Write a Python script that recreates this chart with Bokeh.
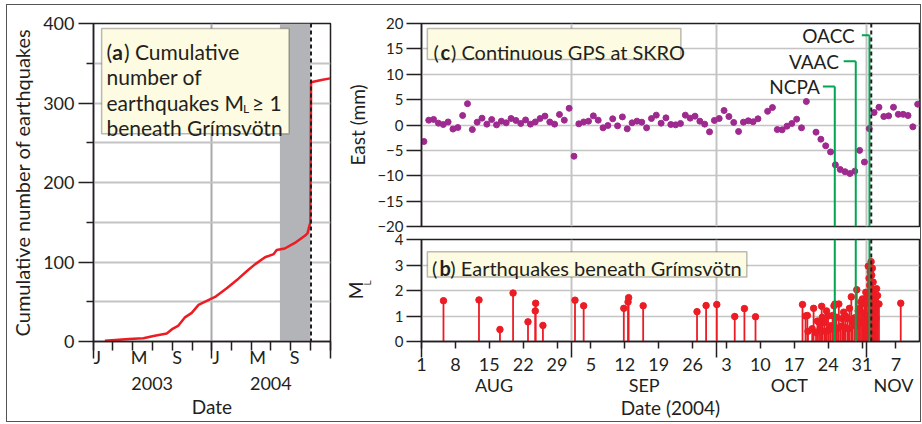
import pandas as pd
from bokeh.plotting import figure
from bokeh.models import FixedTicker, LinearAxis, Range1d, BoxAnnotation, Span, Label
from bokeh.layouts import row, column
from bokeh.embed import file_html
from bokeh.resources import INLINE

# ---------------- data ----------------
# (a) cumulative number of earthquakes ML >= 1
cum_dates = ["2003-02-05", "2003-04-20", "2003-06-04", "2003-07-05", "2003-08-15", "2003-09-02",
             "2003-09-20", "2003-10-09", "2003-10-31", "2003-11-21", "2003-12-21", "2004-01-11",
             "2004-02-16", "2004-03-23", "2004-04-22", "2004-05-13", "2004-06-13", "2004-07-10",
             "2004-07-19", "2004-08-13", "2004-09-13", "2004-10-14", "2004-10-22", "2004-10-29",
             "2004-10-31", "2004-11-02", "2004-12-04", "2004-12-31"]
cum_counts = [1, 3, 4, 7, 10, 16, 20, 30, 36, 46, 52, 56, 67, 79, 90, 97, 106, 110, 115, 117,
              124, 133, 136, 147, 150, 326, 329, 331]

# (c) daily GPS east component at SKRO (mm), 2004
gps_dates = ["08-01", "08-02", "08-03", "08-04", "08-05", "08-06", "08-07", "08-08", "08-09", "08-10",
             "08-11", "08-12", "08-13", "08-14", "08-15", "08-16", "08-17", "08-18", "08-19", "08-20",
             "08-21", "08-22", "08-23", "08-24", "08-25", "08-26", "08-27", "08-28", "08-29", "08-30",
             "08-31", "09-01", "09-02", "09-03", "09-04", "09-05", "09-06", "09-07", "09-08", "09-09",
             "09-10", "09-11", "09-12", "09-13", "09-14", "09-15", "09-16", "09-17", "09-18", "09-19",
             "09-20", "09-21", "09-22", "09-23", "09-24", "09-25", "09-26", "09-27", "09-28", "09-29",
             "09-30", "10-01", "10-02", "10-03", "10-04", "10-05", "10-06", "10-07", "10-08", "10-09",
             "10-11", "10-12", "10-13", "10-14", "10-15", "10-16", "10-17", "10-18", "10-19",
             "10-21", "10-22", "10-23", "10-24", "10-25", "10-26", "10-27", "10-28", "10-29", "10-30",
             "10-31", "11-01", "11-02", "11-03", "11-04", "11-05", "11-06", "11-07", "11-08", "11-09",
             "11-10", "11-11"]
gps_east = [-3.25, 0.95, 1.1, 0.36, 0.1, 0.6, -0.8, -0.5, 1.87, 4.2,
            -0.9, 0.56, 1.35, 0.17, 1.08, 0.03, 0.75, 0.43, 1.28, 0.9,
            0.3, 1.0, 0.17, 0.6, 1.28, 1.75, 0.6, 0.17, 2.07, 0.95,
            3.3, -6.15, 0.23, 0.6, 0.75, 1.8, 0.95, -0.56, -0.1, 1.22,
            -0.17, 1.6, -0.76, 0.43, 0.76, 0.56, -0.56, 1.28, 1.94, 0.36,
            1.41, 0.1, 0.03, 0.3, 1.94, 1.35, 1.74, 0.76, 0.17, -1.35,
            0.9, 1.28, 2.86, 1.67, 0.5, -1.28, 0.56, 0.83, 0.63, 1.22,
            2.7, 3.45, -0.9, -0.95, -0.23, 0.3, 1.15, -0.56, 4.63,
            -1.41, -2.8, -4.1, -5.3, -7.85, -8.77, -9.2, -9.56, -9.1, -5.0,
            -7.3, -0.7, 2.46, 3.5, 1.67, 1.8, 3.5, 2.1, 2.1, 1.87,
            -0.36, 4.1]

# (b) earthquakes beneath Grimsvotn: origin time and local magnitude
eq_times = ["2004-08-05 13:00", "2004-08-12 21:00", "2004-08-17 05:00", "2004-08-19 22:00",
            "2004-08-23 00:00", "2004-08-24 12:00", "2004-08-24 14:00", "2004-08-26 02:00",
            "2004-09-01 17:00", "2004-09-03 12:00", "2004-09-11 19:00", "2004-09-12 16:00",
            "2004-09-12 19:00", "2004-09-15 19:00", "2004-09-26 22:00", "2004-09-28 19:00",
            "2004-10-01 00:00", "2004-10-04 17:00", "2004-10-06 17:00", "2004-10-09 00:00",
            "2004-10-18 17:00", "2004-10-19 08:00", "2004-10-19 17:00", "2004-10-19 20:00",
            "2004-10-20 17:00", "2004-10-21 00:00", "2004-10-21 12:00", "2004-10-21 19:00",
            "2004-10-22 03:00", "2004-10-22 08:00", "2004-10-22 16:00", "2004-10-22 19:00",
            "2004-10-23 05:00", "2004-10-23 10:00", "2004-10-23 16:00", "2004-10-24 00:00",
            "2004-10-24 04:00", "2004-10-24 13:00", "2004-10-24 22:00", "2004-10-25 05:00",
            "2004-10-25 10:00", "2004-10-25 17:00", "2004-10-25 20:00", "2004-10-26 05:00",
            "2004-10-26 14:00", "2004-10-26 22:00", "2004-10-27 05:00", "2004-10-27 10:00",
            "2004-10-27 14:00", "2004-10-28 00:00", "2004-10-28 05:00", "2004-10-28 10:00",
            "2004-10-28 19:00", "2004-10-29 02:00", "2004-10-29 12:00", "2004-10-29 18:00",
            "2004-10-29 22:00", "2004-10-30 05:00", "2004-10-30 08:00", "2004-10-30 13:00",
            "2004-10-30 19:00", "2004-10-31 02:00", "2004-10-31 06:00", "2004-10-31 10:00",
            "2004-10-31 14:00", "2004-10-31 19:00", "2004-11-01 00:00", "2004-11-01 03:00",
            "2004-11-01 07:00", "2004-11-01 11:00", "2004-11-01 14:00", "2004-11-01 17:00",
            "2004-11-01 21:00", "2004-11-02 00:00", "2004-11-02 03:00", "2004-11-02 07:00",
            "2004-11-02 10:00", "2004-11-02 14:00", "2004-11-02 16:00", "2004-11-02 19:00",
            "2004-11-02 21:00", "2004-11-03 00:00", "2004-11-03 05:00", "2004-11-03 12:00",
            "2004-11-08 00:00"]
eq_ml = [1.6, 1.63, 0.47, 1.9,
         0.77, 1.2, 1.5, 0.63,
         1.62, 1.4, 1.3, 1.55,
         1.72, 1.4, 1.17, 1.41,
         1.45, 0.98, 1.29, 0.97,
         1.45, 1.0, 1.02, 0.4,
         0.5, 1.3, 0.35, 0.8,
         0.75, 0.5, 1.38, 0.95,
         0.75, 0.4, 1.2, 1.0,
         0.45, 0.62, 1.02, 1.4,
         1.47, 0.95, 0.5, 1.47,
         0.6, 0.9, 1.15, 0.55,
         1.0, 0.9, 0.5, 1.3,
         1.75, 0.75, 0.93, 0.6,
         2.03, 1.2, 0.7, 1.3,
         1.55, 1.67, 0.8, 1.12,
         1.47, 1.93, 1.75, 1.0,
         2.95, 2.48, 2.2, 2.73,
         3.13, 2.6, 2.87, 2.33,
         1.8, 2.03, 1.2, 1.6,
         0.9, 2.07, 1.8, 1.47,
         1.5]

alert_names = ["NCPA", "VAAC", "OACC"]
alert_times = ["2004-10-25 09:00", "2004-10-29 17:00", "2004-11-01 13:00"]
eruption_time = "2004-11-01 21:50"
shade_period = ["2004-07-29", "2004-10-31"]

a_tick_dates = ["2003-01-01", "2003-03-01", "2003-05-01", "2003-07-01", "2003-09-01", "2003-11-01",
                "2004-01-01", "2004-03-01", "2004-05-01", "2004-07-01", "2004-09-01", "2004-11-01",
                "2005-01-01"]
a_year_starts = ["2003-01-01", "2004-01-01", "2005-01-01"]
a_letter_pos = ["2003-01-13", "2003-05-22", "2003-09-16", "2004-01-14", "2004-05-21", "2004-09-12"]
a_letter_labels = ["J", "M", "S", "J", "M", "S"]
a_year_mid = ["2003-07-01", "2004-07-01"]
a_year_labels = ["2003", "2004"]

b_tick_dates = ["2004-08-01", "2004-08-08", "2004-08-15", "2004-08-22", "2004-08-29", "2004-09-05",
                "2004-09-12", "2004-09-19", "2004-09-26", "2004-10-03", "2004-10-10", "2004-10-17",
                "2004-10-24", "2004-10-31", "2004-11-07"]
b_tick_labels = ["1", "8", "15", "22", "29", "5", "12", "19", "26", "3", "10", "17", "24", "31", "7"]
month_starts = ["2004-08-01", "2004-09-01", "2004-10-01", "2004-11-01"]
b_month_pos = ["2004-08-16", "2004-09-16", "2004-10-16", "2004-11-06 12:00"]
b_month_labels = ["AUG", "SEP", "OCT", "NOV"]

# ---------------- style ----------------
INK = "#231f20"
GRID = "#c4c4c4"
RED = "#ec1c24"
PURPLE = "#9e2a8f"
GREEN = "#00a651"
CREAM = "#fdfbe1"
SHADE = "#b3b4b8"
FONT = "Lato"


def ms(s):
    return pd.Timestamp(s).value / 1e6


def style_axis(ax, size):
    ax.axis_line_color = INK
    ax.axis_line_width = 1.5
    ax.major_tick_line_color = INK
    ax.major_tick_line_width = 1.5
    ax.minor_tick_line_color = INK
    ax.minor_tick_line_width = 1.5
    ax.major_tick_in = 0
    ax.minor_tick_in = 0
    ax.major_label_text_font = FONT
    ax.major_label_text_font_size = size
    ax.major_label_text_color = INK
    ax.axis_label_text_font = FONT
    ax.axis_label_text_font_style = "normal"
    ax.axis_label_text_color = INK
    ax.axis_label_text_font_size = "19px"


def txt(p, x, y, text, size="20px", bold=False, align="left", baseline="alphabetic", **kw):
    p.add_layout(Label(x=x, y=y, text=text, text_font=FONT, text_font_size=size,
                       text_font_style="bold" if bold else "normal", text_color=INK,
                       text_align=align, text_baseline=baseline, **kw))


def bare_axis(ax):
    ax.axis_line_color = None
    ax.major_tick_line_color = None
    ax.minor_tick_line_color = None
    ax.major_tick_out = 0
    ax.minor_tick_out = 0


# ---------------- (a) cumulative ----------------
pa = figure(width=333, height=416, output_backend="svg", toolbar_location=None,
            x_range=Range1d(ms("2003-01-01"), ms("2005-01-01")), y_range=Range1d(0, 400),
            min_border_left=86, min_border_right=10, min_border_top=18, min_border_bottom=80)
pa.outline_line_color = INK
pa.outline_line_width = 1.5

# tick marks only: long at year boundaries, short every two months
ax = pa.xaxis[0]
style_axis(ax, "1px")
ax.ticker = FixedTicker(ticks=[ms(d) for d in a_year_starts], minor_ticks=[ms(d) for d in a_tick_dates])
ax.major_label_overrides = {ms(d): "" for d in a_year_starts}
ax.major_tick_out = 17
ax.minor_tick_out = 9
ax.major_label_standoff = 0

# month initials, set just right of their ticks
lt = LinearAxis(ticker=FixedTicker(ticks=[ms(d) for d in a_letter_pos], minor_ticks=[]),
                major_label_overrides={ms(d): t for d, t in zip(a_letter_pos, a_letter_labels)})
style_axis(lt, "18px")
bare_axis(lt)
lt.major_label_standoff = -13
pa.add_layout(lt, "below")

yr = LinearAxis(ticker=FixedTicker(ticks=[ms(d) for d in a_year_mid], minor_ticks=[]),
                major_label_overrides={ms(d): t for d, t in zip(a_year_mid, a_year_labels)},
                axis_label="Date")
style_axis(yr, "18px")
bare_axis(yr)
yr.major_label_standoff = 6
yr.axis_label_standoff = 2
pa.add_layout(yr, "below")

ay = pa.yaxis[0]
style_axis(ay, "18px")
ay.ticker = FixedTicker(ticks=[0, 100, 200, 300, 400], minor_ticks=[50, 150, 250, 350])
ay.major_tick_out = 15
ay.minor_tick_out = 7
ay.major_label_standoff = 4
ay.axis_label = "Cumulative number of earthquakes"
ay.axis_label_text_font_size = "20px"
ay.axis_label_standoff = 6

pa.xgrid[0].ticker = FixedTicker(ticks=[ms("2004-01-01")])
pa.xgrid.grid_line_color = "#a9a9a9"
pa.xgrid.grid_line_width = 2
pa.ygrid[0].ticker = FixedTicker(ticks=[0, 50, 100, 150, 200, 250, 300, 350, 400])
pa.ygrid.grid_line_color = GRID
pa.ygrid.grid_line_width = 2

pa.add_layout(BoxAnnotation(left=ms(shade_period[0]), right=ms(shade_period[1]),
                            fill_color=SHADE, fill_alpha=1, line_color=None, level="underlay"))
pa.line([ms(d) for d in cum_dates], cum_counts, line_color=RED, line_width=2.5)
pa.add_layout(Span(location=ms(eruption_time), dimension="height", line_color=INK,
                   line_width=2, line_dash="4 3"))

pa.add_layout(BoxAnnotation(left=ms("2003-01-26"), right=ms("2004-08-26"), top=393.7, bottom=261.3,
                            fill_color=CREAM, fill_alpha=1, line_color=INK, line_width=1.5))
txt(pa, ms("2003-02-10"), 364.3, "(", size="21px")
txt(pa, ms("2003-02-28"), 364.3, "a", size="21px", bold=True)
txt(pa, ms("2003-04-05"), 364.3, ") Cumulative", size="21px")
txt(pa, ms("2003-02-10"), 332.8, "number of", size="21px")
txt(pa, ms("2003-02-10"), 300.8, "earthquakes M", size="21px")
txt(pa, ms("2004-04-06"), 293.0, "L", size="12px")
txt(pa, ms("2004-05-03 19:00"), 300.8, "\u2265 1", size="21px")
txt(pa, ms("2003-02-10"), 269.3, "beneath Gr\u00edmsv\u00f6tn", size="21px")

# ---------------- (c) GPS ----------------
x0, x1 = ms("2004-08-01"), ms("2004-11-11 21:00")
pc = figure(width=580, height=240, output_backend="svg", toolbar_location=None,
            x_range=Range1d(x0, x1), y_range=Range1d(-20, 20),
            min_border_left=75, min_border_right=1, min_border_top=18, min_border_bottom=19)
pc.outline_line_color = INK
pc.outline_line_width = 1.5
pc.xaxis.visible = False
cy = pc.yaxis[0]
style_axis(cy, "15px")
cy.ticker = FixedTicker(ticks=[-20, -15, -10, -5, 0, 5, 10, 15, 20], minor_ticks=[])
cy.major_tick_out = 15
cy.major_label_standoff = 3
cy.axis_label = "East (mm)"
cy.axis_label_standoff = 5
pc.xgrid[0].ticker = FixedTicker(ticks=[ms(d) for d in month_starts[1:]])
pc.xgrid.grid_line_color = GRID
pc.xgrid.grid_line_width = 2
pc.ygrid[0].ticker = FixedTicker(ticks=[-15, -10, -5, 0, 5, 10, 15])
pc.ygrid.grid_line_color = GRID
pc.ygrid.grid_line_width = 1.5

pc.scatter([ms("2004-" + d + " 12:00") for d in gps_dates], gps_east, size=6,
           fill_color=PURPLE, line_color=PURPLE)

# alert labels with leader lines
label_y = [7.58, 12.57, 17.7]
label_right = ["2004-10-22 07:00", "2004-10-26 05:00", "2004-10-29 12:00"]
leader_start = ["2004-10-22 22:00", "2004-10-27 05:00", "2004-10-30 23:00"]
at = [ms(t) for t in alert_times]
pc.segment(x0=[ms(t) for t in leader_start], y0=label_y, x1=at, y1=label_y,
           line_color=GREEN, line_width=2)
pc.segment(x0=at, y0=label_y, x1=at, y1=[-20] * 3, line_color=GREEN, line_width=2)
for name, xr, yv in zip(alert_names, label_right, label_y):
    txt(pc, ms(xr), yv, name, size="19px", align="right", baseline="middle")
pc.add_layout(Span(location=ms(eruption_time), dimension="height", line_color=INK,
                   line_width=2, line_dash="4 3"))

pc.add_layout(BoxAnnotation(left=ms("2004-08-02 05:00"), right=ms("2004-09-23 14:00"), top=19.0,
                            bottom=12.9, fill_color=CREAM, fill_alpha=1, line_color=INK, line_width=1.5))
txt(pc, ms("2004-08-03 12:00"), 14.35, "(")
txt(pc, ms("2004-08-04 22:00"), 14.35, "c", bold=True)
txt(pc, ms("2004-08-07 02:00"), 14.35, ") Continuous GPS at SKRO")

# ---------------- (b) earthquakes ----------------
pb = figure(width=580, height=196, output_backend="svg", toolbar_location=None,
            x_range=pc.x_range, y_range=Range1d(0, 4),
            min_border_left=75, min_border_right=1, min_border_top=14, min_border_bottom=80,
            styles={"margin-top": "-20px"})
pb.border_fill_alpha = 0
pb.outline_line_color = INK
pb.outline_line_width = 1.5
bx = pb.xaxis[0]
style_axis(bx, "18px")
bx.ticker = FixedTicker(ticks=[ms(d) for d in b_tick_dates], minor_ticks=[ms(d) for d in month_starts])
bx.major_label_overrides = {ms(d): t for d, t in zip(b_tick_dates, b_tick_labels)}
bx.major_tick_out = 7
bx.minor_tick_out = 16
bx.major_label_standoff = 0

mx = LinearAxis(ticker=FixedTicker(ticks=[ms(d) for d in b_month_pos], minor_ticks=[]),
                major_label_overrides={ms(d): t for d, t in zip(b_month_pos, b_month_labels)},
                axis_label="Date (2004)")
style_axis(mx, "18px")
bare_axis(mx)
mx.major_label_standoff = 0
mx.axis_label_standoff = -3
pb.add_layout(mx, "below")

# y axis: tick labels plus the subscript "L"; the "M" sits on an outer bare axis
by = pb.yaxis[0]
style_axis(by, "15px")
by.ticker = FixedTicker(ticks=[0, 1, 2, 3, 4], minor_ticks=[])
by.major_tick_out = 15
by.major_label_standoff = 3
by.axis_label = "\u2002\u2002\u2002L"
by.axis_label_text_font_size = "10px"
by.axis_label_standoff = 19

my = LinearAxis(ticker=FixedTicker(ticks=[], minor_ticks=[]), axis_label="M")
style_axis(my, "15px")
bare_axis(my)
my.axis_label_standoff = -9
pb.add_layout(my, "left")

pb.xgrid[0].ticker = FixedTicker(ticks=[ms(d) for d in month_starts[1:]])
pb.xgrid.grid_line_color = GRID
pb.xgrid.grid_line_width = 2
pb.ygrid[0].ticker = FixedTicker(ticks=[1, 2, 3])
pb.ygrid.grid_line_color = GRID
pb.ygrid.grid_line_width = 1.5

eq_x = [ms(t) for t in eq_times]
pb.segment(x0=eq_x, y0=[0] * len(eq_x), x1=eq_x, y1=eq_ml, line_color=RED, line_width=1.8)
pb.scatter(eq_x, eq_ml, size=6.5, fill_color=RED, line_color=RED)
for t in alert_times:
    pb.add_layout(Span(location=ms(t), dimension="height", line_color=GREEN, line_width=2))
pb.add_layout(Span(location=ms(eruption_time), dimension="height", line_color=INK,
                   line_width=2, line_dash="4 3"))

pb.add_layout(BoxAnnotation(left=ms("2004-08-02 05:00"), right=ms("2004-10-07 05:00"), top=3.52,
                            bottom=2.53, fill_color=CREAM, fill_alpha=1, line_color=INK, line_width=1.5))
txt(pb, ms("2004-08-03 04:00"), 2.88, "(")
txt(pb, ms("2004-08-04 17:00"), 2.88, "b", bold=True)
txt(pb, ms("2004-08-06 23:00"), 2.88, ") Earthquakes beneath Gr\u00edmsv\u00f6tn")

layout = row(pa, column(pc, pb),
             styles={"margin-left": "6px", "margin-top": "4px", "border": "1.5px solid #555"})
open("out.html", "w").write(file_html(layout, INLINE))
